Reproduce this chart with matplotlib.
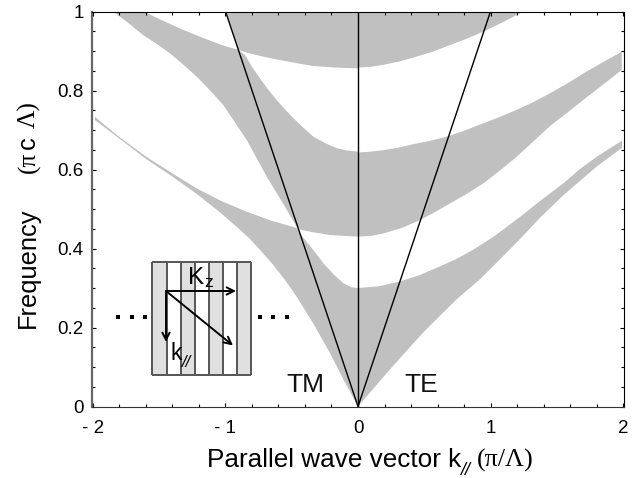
import numpy as np
import matplotlib
matplotlib.use("Agg")
import matplotlib.pyplot as plt

plt.rcParams["font.family"] = ["Liberation Sans", "DejaVu Sans"]

band_color = "#c0c0c0"

# TM side, first band
tm1_low_k = [0, -0.1, -0.211, -0.337, -0.463, -0.55, -0.639, -0.73, -0.815, -0.916, -1.05, -1.217, -1.4, -1.597, -1.8, -1.985]
tm1_low_f = [0, 0.062, 0.135, 0.21, 0.278, 0.32, 0.358, 0.393, 0.424, 0.455, 0.494, 0.538, 0.582, 0.626, 0.678, 0.725]
tm1_up_k = [-1.985, -1.8, -1.597, -1.4, -1.217, -1.03, -0.84, -0.65, -0.463, -0.42, -0.337, -0.26, -0.18, -0.11, -0.05, 0]
tm1_up_f = [0.733, 0.682, 0.632, 0.59, 0.552, 0.52, 0.493, 0.47, 0.452, 0.43, 0.396, 0.362, 0.333, 0.312, 0.302, 0.30]

# TM side, second band
tm2_low_k = [0, -0.21, -0.337, -0.428, -0.463, -0.58, -0.689, -0.84, -0.93, -1.016, -1.116, -1.217, -1.32, -1.419, -1.52, -1.62, -1.73, -1.847]
tm2_low_f = [0.43, 0.434, 0.441, 0.447, 0.455, 0.522, 0.582, 0.675, 0.72, 0.763, 0.80, 0.835, 0.866, 0.894, 0.918, 0.94, 0.97, 1.0]
tm2_up_k = [-1.62, -1.48, -1.343, -1.22, -1.092, -1.0, -0.903, -0.853, -0.8, -0.74, -0.68, -0.614, -0.55, -0.488, -0.41, -0.337, -0.25, -0.161, -0.08, 0]
tm2_up_f = [1.0, 0.978, 0.957, 0.94, 0.923, 0.912, 0.903, 0.89, 0.86, 0.831, 0.803, 0.776, 0.752, 0.73, 0.705, 0.683, 0.667, 0.654, 0.648, 0.645]

# TM side, third band
tm3_k = [0, -0.17, -0.337, -0.46, -0.589, -0.72, -0.84, -0.903, -0.95, -0.998, 0]
tm3_f = [0.856, 0.858, 0.862, 0.869, 0.877, 0.886, 0.896, 0.903, 0.95, 1.0, 1.0]

# TE side, first band
te1_low_k = [0, 0.236, 0.488, 0.74, 0.92, 1.04, 1.223, 1.38, 1.55, 1.80, 1.992]
te1_low_f = [0, 0.092, 0.186, 0.27, 0.322, 0.362, 0.424, 0.48, 0.535, 0.607, 0.655]
te1_up_k = [1.992, 1.80, 1.67, 1.55, 1.38, 1.223, 1.04, 0.95, 0.865, 0.74, 0.614, 0.46, 0.312, 0.15, 0]
te1_up_f = [0.673, 0.632, 0.60, 0.565, 0.522, 0.48, 0.434, 0.414, 0.396, 0.373, 0.354, 0.332, 0.316, 0.304, 0.30]

# TE side, second band
te2_low_k = [0, 0.1, 0.191, 0.33, 0.468, 0.58, 0.694, 0.82, 0.946, 1.07, 1.197, 1.32, 1.449, 1.58, 1.70, 1.85, 1.99]
te2_low_f = [0.43, 0.432, 0.438, 0.452, 0.472, 0.492, 0.514, 0.538, 0.565, 0.597, 0.632, 0.67, 0.71, 0.744, 0.776, 0.815, 0.852]
te2_up_k = [1.99, 1.85, 1.70, 1.58, 1.449, 1.32, 1.197, 1.07, 0.946, 0.80, 0.669, 0.55, 0.443, 0.30, 0.191, 0.09, 0]
te2_up_f = [0.898, 0.872, 0.843, 0.818, 0.793, 0.77, 0.751, 0.733, 0.717, 0.698, 0.683, 0.673, 0.666, 0.655, 0.649, 0.645, 0.643]

# TE side, third band
te3_k = [0, 0.1, 0.191, 0.32, 0.443, 0.57, 0.694, 0.82, 0.946, 1.1, 1.248, 0]
te3_f = [0.858, 0.86, 0.865, 0.874, 0.886, 0.899, 0.915, 0.931, 0.949, 0.974, 1.0, 1.0]

# Light lines
light_k = [-1, 0, 1]
light_f = [1, 0, 1]

x_ticks = [-2, -1, 0, 1, 2]
x_tick_labels = ["- 2", "- 1", "0", "1", "2"]
y_ticks = [0, 0.2, 0.4, 0.6, 0.8, 1]
y_tick_labels = ["0", "0.2", "0.4", "0.6", "0.8", "1"]

# Stripe edges of the layer sketch, in picture pixels
stripe_edges = [151.7, 166.7, 180.7, 194.7, 208.7, 222.7, 236.7, 251]

W, H = 641, 478
fig = plt.figure(figsize=(W / 100, H / 100), dpi=100)
ax = fig.add_axes([92 / W, 1 - 406.5 / H, 532 / W, 395 / H])

# Draw the bands
ax.fill(tm1_low_k + tm1_up_k, tm1_low_f + tm1_up_f, color=band_color, lw=0)
ax.fill(tm2_low_k + tm2_up_k, tm2_low_f + tm2_up_f, color=band_color, lw=0)
ax.fill(tm3_k, tm3_f, color=band_color, lw=0)
ax.fill(te1_low_k + te1_up_k, te1_low_f + te1_up_f, color=band_color, lw=0)
ax.fill(te2_low_k + te2_up_k, te2_low_f + te2_up_f, color=band_color, lw=0)
ax.fill(te3_k, te3_f, color=band_color, lw=0)

# Draw the light lines and the centre line
ax.plot(light_k, light_f, color="black", lw=1)
ax.plot([0, 0], [0, 1], color="black", lw=1)

ax.set_xlim(-2.0075, 2.0075)
ax.set_ylim(0, 1)
ax.set_xticks(x_ticks)
ax.set_xticklabels(x_tick_labels, fontsize=13.5)
ax.set_yticks(y_ticks)
ax.set_yticklabels(y_tick_labels, fontsize=13.5)
ax.set_xticks(np.arange(-2, 2.01, 0.2), minor=True)
ax.set_yticks(np.arange(0, 1.01, 0.05), minor=True)
ax.tick_params(which="major", direction="in", top=True, right=True, length=3, width=0.8)
ax.tick_params(which="minor", direction="in", top=True, right=True, length=2, width=0.8)
ax.tick_params(axis="x", which="major", pad=9.5)
ax.tick_params(axis="y", which="major", pad=6)
ax.spines["left"].set_linewidth(1.6)
ax.spines["left"].set_color("#666666")
ax.spines["bottom"].set_color("#333333")

# Overlay in picture pixels for the labels and the sketch
over = fig.add_axes([0, 0, 1, 1])
over.set_xlim(0, W)
over.set_ylim(H, 0)
over.axis("off")

over.text(286.5, 392, "TM", fontsize=19, ha="left", va="baseline", color="#111111")
over.text(404, 392, "TE", fontsize=19, ha="left", va="baseline", color="#111111")

# X label in pieces, the units are in a serif face
over.text(207, 467, "Parallel wave vector k", fontsize=18.8, ha="left", va="baseline")
over.text(460, 475, "//", fontsize=13, style="italic", ha="left", va="baseline")
over.text(477, 467, "(π/Λ)", fontsize=18.8, family="Liberation Serif", ha="left", va="baseline")

# Y label in pieces
over.text(35, 328, "Frequency", fontsize=18.3, rotation=90, ha="left", va="baseline", rotation_mode="anchor")
over.text(35, 173, "(π", fontsize=18.3, rotation=90, family="Liberation Serif", ha="left", va="baseline", rotation_mode="anchor")
over.text(35, 149, "c", fontsize=18.3, rotation=90, ha="left", va="baseline", rotation_mode="anchor")
over.text(35, 128, "Λ)", fontsize=18.3, rotation=90, family="Liberation Serif", ha="left", va="baseline", rotation_mode="anchor")

# Layer sketch
for i in range(0, len(stripe_edges) - 1, 2):
    over.fill_between(stripe_edges[i:i + 2], 261.7, 375, color="#e0e0e0", lw=0)
over.vlines(stripe_edges, 261.7, 375, color="#555555", lw=1.4)
over.hlines([261.7, 375], stripe_edges[0], stripe_edges[-1], color="#555555", lw=1.4)

arrow_style = dict(arrowstyle="->", color="black", lw=1.4, shrinkA=0, shrinkB=0, mutation_scale=13)
over.annotate("", xy=(236, 291), xytext=(166, 291), arrowprops=arrow_style)
over.annotate("", xy=(166, 342), xytext=(166, 291), arrowprops=arrow_style)
over.annotate("", xy=(233, 345.5), xytext=(166, 291), arrowprops=arrow_style)

over.text(188.5, 283.5, "K", fontsize=17.5, ha="left", va="baseline")
over.text(204.5, 287, "z", fontsize=12.5, ha="left", va="baseline")
over.text(171, 360, "k", fontsize=16.5, ha="left", va="baseline")
over.text(181.5, 367, "//", fontsize=12, style="italic", ha="left", va="baseline")

# Dots on both sides of the sketch
over.plot([118.3, 131.7, 145], [317.3] * 3, "s", color="black", ms=3.4, mew=0)
over.plot([260, 273.3, 286.7], [317.3] * 3, "s", color="black", ms=3.4, mew=0)

fig.savefig("out.png", dpi=100)
